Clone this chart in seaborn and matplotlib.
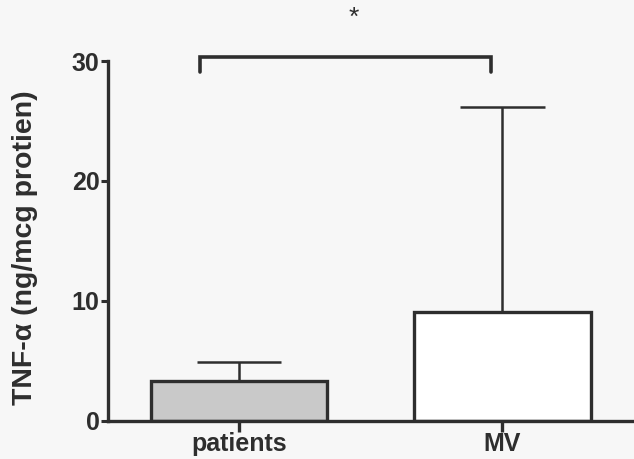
import matplotlib
matplotlib.use("Agg")
import matplotlib.pyplot as plt
import seaborn as sns
import pandas as pd

# Group means and upper SD
groups = ["patients", "MV"]
means = [3.3, 9.1]
upper_sd = [1.6, 17.1]
bar_colors = ["#c9c9c9", "#ffffff"]
y_ticks = [0, 10, 20, 30]

bg = "#f7f7f7"
ink = "#2e2e2e"

sns.set_theme(style="ticks")
plt.rcParams["font.family"] = ["Liberation Sans", "DejaVu Sans"]

fig = plt.figure(figsize=(6.34, 4.59), dpi=100, facecolor=bg)
ax = fig.add_axes([0.170, 0.083, 0.83, 0.784])
ax.set_facecolor(bg)

df = pd.DataFrame({"group": groups, "value": means})
sns.barplot(data=df, x="group", y="value", hue="group", palette=bar_colors,
            width=0.67, errorbar=None, legend=False, ax=ax,
            edgecolor=ink, linewidth=2.4, saturation=1)

# One-sided (upper) error bars
ax.errorbar(range(len(groups)), means, yerr=[[0] * len(groups), upper_sd],
            fmt="none", ecolor=ink, elinewidth=1.8, capsize=0, zorder=1)
for i, (m, s) in enumerate(zip(means, upper_sd)):
    ax.plot([i - 0.16, i + 0.16], [m + s, m + s], color=ink, lw=1.8,
            solid_capstyle="butt", zorder=1)

ax.set_xlim(-0.5, 1.5)
ax.set_ylim(0, 30)
ax.set_yticks(y_ticks)
ax.set_xlabel("")
ax.set_ylabel("TNF-α (ng/mcg protien)", fontsize=20.5, fontweight="bold",
              color=ink, va="center")
ax.yaxis.set_label_coords(-0.158, 0.48)

for side in ["top", "right"]:
    ax.spines[side].set_visible(False)
for side in ["left", "bottom"]:
    ax.spines[side].set_linewidth(2.4)
    ax.spines[side].set_color(ink)
ax.tick_params(axis="y", length=5, width=2.2, color=ink, labelsize=18,
               labelcolor=ink, pad=1)
ax.tick_params(axis="x", length=8, width=2.4, color=ink, labelsize=18,
               labelcolor=ink, pad=0)
for lab in ax.get_xticklabels() + ax.get_yticklabels():
    lab.set_fontweight("bold")

# Significance bracket
bx0, bx1 = -0.15, 0.955
ax.plot([bx0, bx0, bx1, bx1], [29.1, 30.3, 30.3, 29.1], color=ink, lw=2.6,
        clip_on=False, solid_joinstyle="miter")
ax.text(0.435, 33.6, "*", ha="center", va="center", fontsize=19, color=ink,
        clip_on=False)

fig.savefig("out.png", dpi=100, facecolor=bg)
